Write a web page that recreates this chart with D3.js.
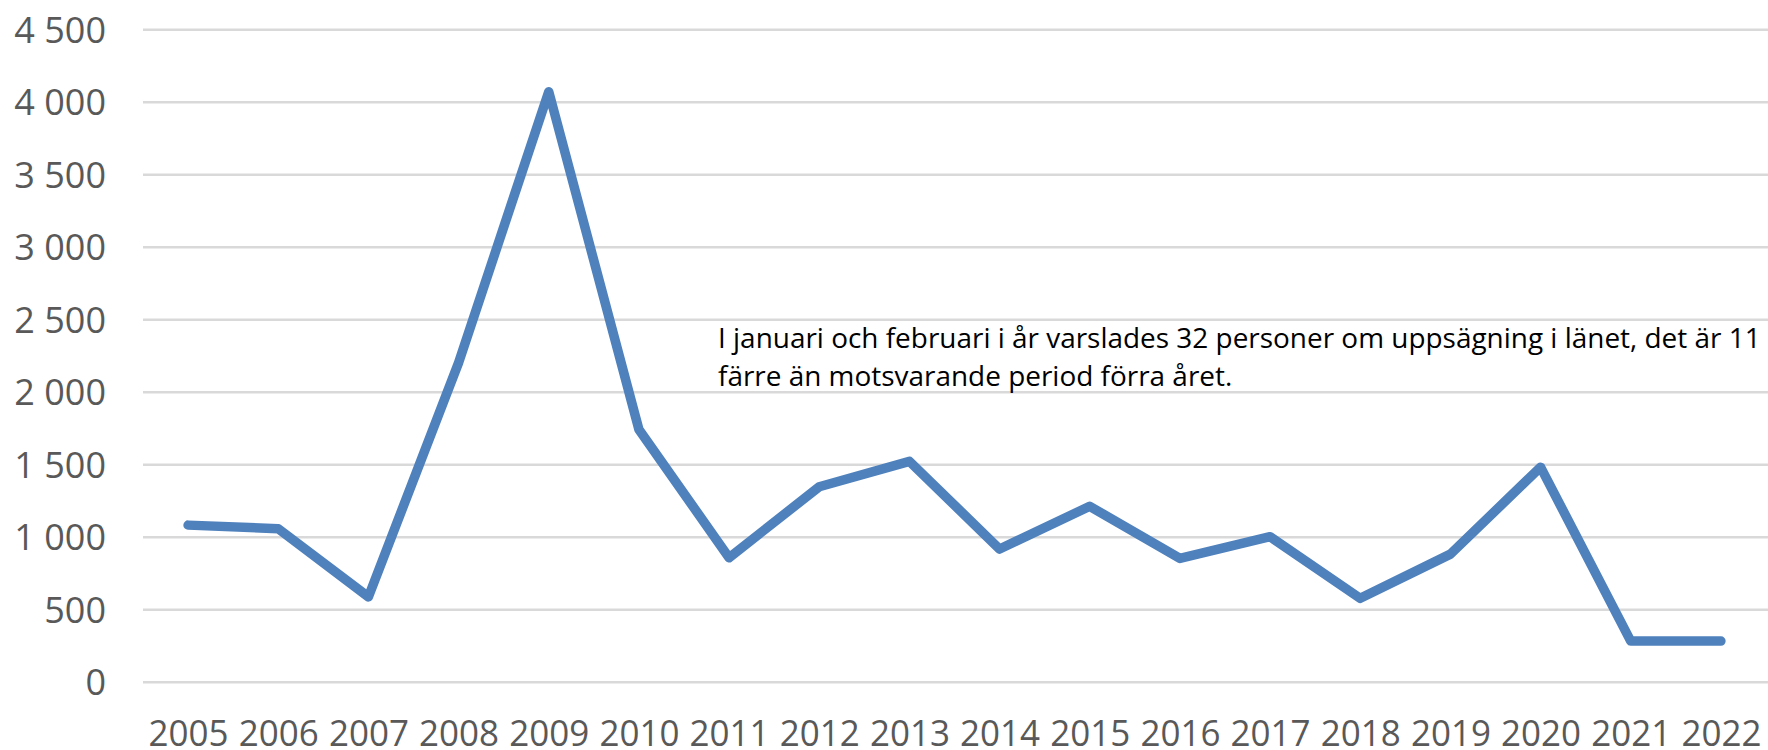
<!DOCTYPE html>
<html>
<head>
<meta charset="utf-8">
<script src="https://cdn.jsdelivr.net/npm/d3@7"></script>
<style>
  html, body { margin: 0; padding: 0; background: #fff; }
  svg { display: block; }
  .axis text { font-family: "Open Sans", sans-serif; fill: #595959; }
</style>
</head>
<body>
<svg id="chart" width="1768" height="750"></svg>
<script>
// ---- data ----
const years = ["2005","2006","2007","2008","2009","2010","2011","2012","2013","2014",
               "2015","2016","2017","2018","2019","2020","2021","2022"];
const varsel = [1080, 1055, 585, 2200, 4070, 1740, 855, 1345, 1520, 915,
                1210, 850, 1000, 575, 880, 1480, 280, 280];
const yTicks = [0, 500, 1000, 1500, 2000, 2500, 3000, 3500, 4000, 4500];
const noteLines = [
  "I januari och februari i år varslades 32 personer om uppsägning i länet, det är 11",
  "färre än motsvarande period förra året."
];

(function () {
  // ---- layout ----
  const W = 1768;
  const plotLeft = 143, plotRight = 1766, plotTop = 29.3, plotBottom = 681.7;
  const svg = d3.select("#chart");

  const x = d3.scalePoint().domain(years).range([plotLeft, plotRight]).padding(0.5);
  const y = d3.scaleLinear().domain([0, 4500]).range([plotBottom, plotTop]);

  const locale = d3.formatLocale({ decimal: ",", thousands: "\u00a0", grouping: [3], currency: ["", " kr"] });
  const fmt = locale.format(",d");

  // gridlines
  svg.append("g")
    .attr("transform", `translate(${plotLeft},0)`)
    .call(d3.axisLeft(y).tickValues(yTicks).tickSize(-(W - plotLeft)).tickFormat(""))
    .call(g => g.select(".domain").remove())
    .call(g => g.selectAll("line").attr("stroke", "#d9d9d9").attr("stroke-width", 2.5));

  // y axis labels
  svg.append("g")
    .attr("class", "axis")
    .attr("transform", `translate(${plotLeft + 1},0)`)
    .style("font-size", "36px")
    .call(d3.axisLeft(y).tickValues(yTicks).tickSize(0).tickPadding(38).tickFormat(fmt))
    .call(g => g.select(".domain").remove())
    .call(g => g.selectAll("text").attr("dy", "0.36em").attr("font-size", 36));

  // x axis labels
  svg.append("g")
    .attr("class", "axis")
    .attr("transform", `translate(0,${plotBottom})`)
    .style("font-size", "36px")
    .call(d3.axisBottom(x).tickSize(0).tickPadding(39.2))
    .call(g => g.select(".domain").remove())
    .call(g => g.selectAll("text")
        .attr("font-size", 36)
        .attr("textLength", 80)
        .attr("lengthAdjust", "spacingAndGlyphs"));

  // line
  const line = d3.line()
    .x((d, i) => x(years[i]))
    .y(d => y(d));

  svg.append("path")
    .datum(varsel)
    .attr("d", line)
    .attr("fill", "none")
    .attr("stroke", "#4f81bd")
    .attr("stroke-width", 9.5)
    .attr("stroke-linejoin", "round")
    .attr("stroke-linecap", "round");

  // annotation
  const noteX = 718, noteY = 348.5, noteW = 1043;
  const note = svg.append("g");
  const noteText = note.append("text")
    .attr("x", noteX)
    .attr("y", noteY)
    .attr("font-family", "'Open Sans', sans-serif")
    .attr("font-size", 27)
    .attr("fill", "#000");
  noteText.selectAll("tspan")
    .data(noteLines)
    .join("tspan")
    .attr("x", noteX)
    .attr("dy", (d, i) => i === 0 ? 0 : 37.5)
    .text(d => d);
  const natural = noteText.select("tspan").node().getComputedTextLength();
  const sx = noteW / natural;
  note.attr("transform", `translate(${noteX},0) scale(${sx},1) translate(${-noteX},0)`);
})();
</script>
</body>
</html>
